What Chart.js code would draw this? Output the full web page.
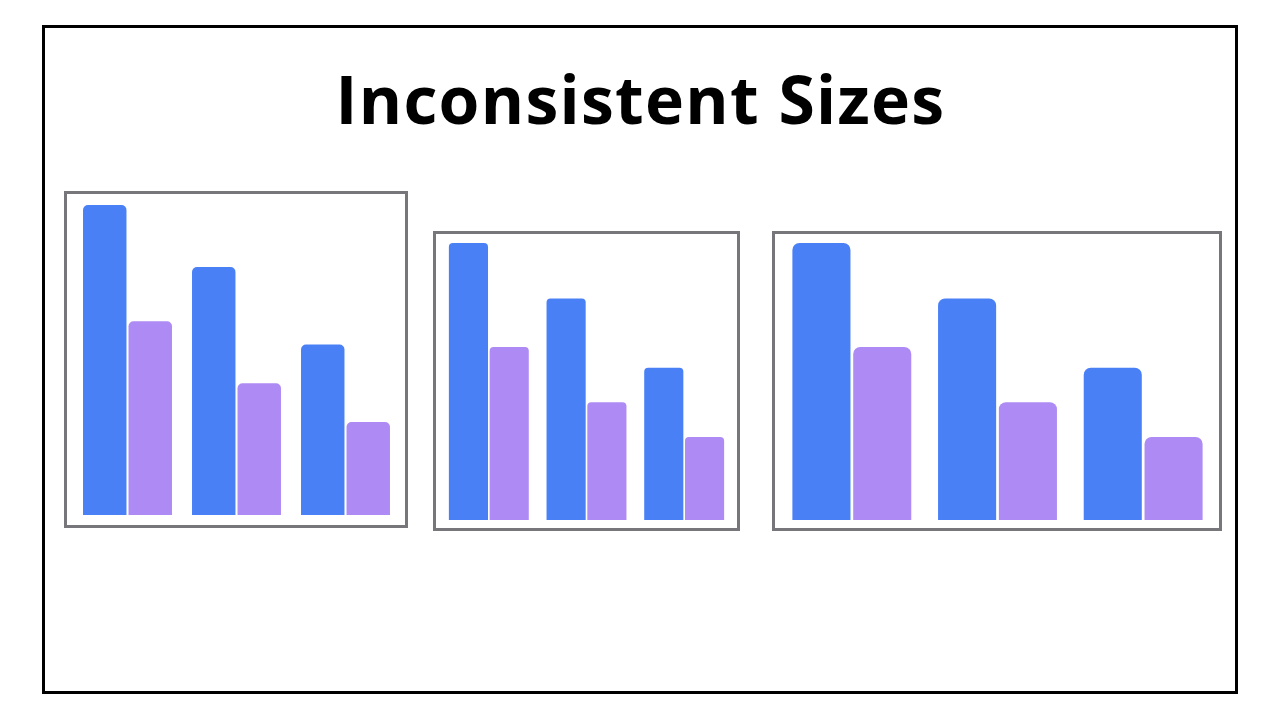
<!DOCTYPE html>
<html>
<head>
<meta charset="utf-8">
<script src="https://cdn.jsdelivr.net/npm/chart.js@4"></script>
<style>
  body { margin: 0; width: 1280px; height: 720px; background: #fff; position: relative; overflow: hidden; }
  #frame { position: absolute; left: 42px; top: 25px; width: 1196px; height: 669px; box-sizing: border-box; border: 3px solid #000; }
  #title { position: absolute; left: 0; width: 1280px; top: 58px; text-align: center; box-sizing: border-box; padding-left: 1px;
           font-family: "Open Sans", sans-serif; font-weight: 700; font-size: 66px; letter-spacing: 1.3px; color: #000; line-height: 80px; }
  .box { position: absolute; box-sizing: border-box; border: 3px solid #77777b; background: #fff; }
  .box canvas { display: block; }
</style>
</head>
<body>
<div id="frame"></div>
<div id="title">Inconsistent Sizes</div>
<div class="box" style="left:64px; top:191px; width:344px; height:337px;"><canvas id="c1" width="338" height="331"></canvas></div>
<div class="box" style="left:433px; top:231px; width:307px; height:300px;"><canvas id="c2" width="301" height="294"></canvas></div>
<div class="box" style="left:772px; top:231px; width:450px; height:300px;"><canvas id="c3" width="444" height="294"></canvas></div>
<script>
// same data in all three charts, only the size changes
const categories = ['A', 'B', 'C']
const blueValues = [100, 80, 55]
const purpleValues = [62.5, 42.5, 30]
const blueColor = '#4a80f6'
const purpleColor = '#ae8bf4'

function drawChart(id, padding, radius, barPct) {
  const ctx = document.getElementById(id).getContext('2d')
  return new Chart(ctx, {
    type: 'bar',
    data: {
      labels: categories,
      datasets: [
        { data: blueValues, backgroundColor: blueColor, borderRadius: radius, borderSkipped: 'start' },
        { data: purpleValues, backgroundColor: purpleColor, borderRadius: radius, borderSkipped: 'start' }
      ]
    },
    options: {
      responsive: false,
      animation: false,
      devicePixelRatio: 1,
      layout: { padding: padding },
      datasets: { bar: { categoryPercentage: 0.835, barPercentage: barPct } },
      plugins: { legend: { display: false }, tooltip: { enabled: false } },
      scales: {
        x: { display: false, grid: { display: false } },
        y: { display: false, min: 0, max: 100, grid: { display: false } }
      }
    }
  })
}

drawChart('c1', { left: 6, right: 5, top: 11, bottom: 10 }, 5, 0.955)
drawChart('c2', { left: 4, right: 4, top: 9, bottom: 8 }, 4, 0.96)
drawChart('c3', { left: 4, right: 3, top: 9, bottom: 8 }, 7, 0.955)
</script>
</body>
</html>
